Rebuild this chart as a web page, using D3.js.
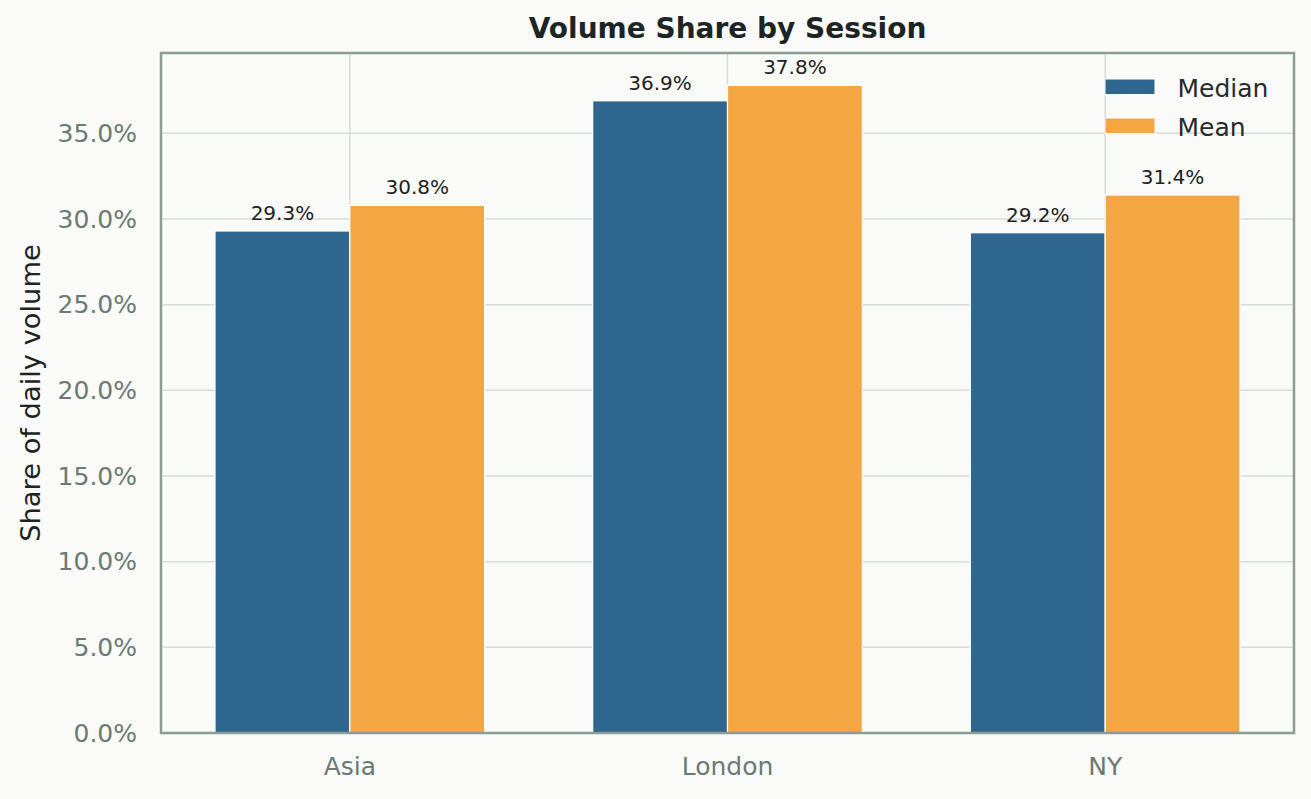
<!DOCTYPE html>
<html>
<head>
<meta charset="utf-8">
<script src="https://cdn.jsdelivr.net/npm/d3@7"></script>
<style>
  html, body { margin: 0; padding: 0; background: #fafaf8; }
  svg { display: block; font-family: "DejaVu Sans", sans-serif; }
</style>
</head>
<body>
<div id="chart"></div>
<script>
// data
const sessions = ["Asia", "London", "NY"];
const medianShare = [29.3, 36.9, 29.2];
const meanShare = [30.8, 37.8, 31.4];
const seriesNames = ["Median", "Mean"];
const yTicks = [0, 5, 10, 15, 20, 25, 30, 35];

const W = 1311, H = 799;
const plot = { left: 161, right: 1294, top: 53, bottom: 733 };
const colors = { Median: "#2f668f", Mean: "#f3a642" };

const svg = d3.select("#chart").append("svg")
    .attr("width", W)
    .attr("height", H);

svg.append("rect").attr("width", W).attr("height", H).attr("fill", "#fafaf8");

const x = d3.scaleBand()
    .domain(sessions)
    .range([plot.left, plot.right])
    .padding(0);

const yMax = d3.max(meanShare.concat(medianShare)) * 1.05;
const y = d3.scaleLinear()
    .domain([0, yMax])
    .range([plot.bottom, plot.top]);

const barW = x.bandwidth() * 0.357;

// grid
svg.append("g")
  .selectAll("line.hgrid")
  .data(yTicks)
  .enter().append("line")
    .attr("x1", plot.left).attr("x2", plot.right)
    .attr("y1", d => y(d)).attr("y2", d => y(d))
    .attr("stroke", "#d6ddd9")
    .attr("stroke-width", 1.5);

svg.append("g")
  .selectAll("line.vgrid")
  .data(sessions)
  .enter().append("line")
    .attr("x1", d => x(d) + x.bandwidth() / 2)
    .attr("x2", d => x(d) + x.bandwidth() / 2)
    .attr("y1", plot.top).attr("y2", plot.bottom)
    .attr("stroke", "#d6ddd9")
    .attr("stroke-width", 1.5);

// bars
const rows = sessions.map((s, i) => ({ s, Median: medianShare[i], Mean: meanShare[i] }));

seriesNames.forEach((name, k) => {
  const g = svg.append("g");
  g.selectAll("rect")
    .data(rows)
    .enter().append("rect")
      .attr("x", d => x(d.s) + x.bandwidth() / 2 + (k - 1) * barW)
      .attr("y", d => y(d[name]))
      .attr("width", barW)
      .attr("height", d => y(0) - y(d[name]))
      .attr("fill", colors[name])
      .attr("stroke", "#ffffff")
      .attr("stroke-width", 1.2);

  g.selectAll("text")
    .data(rows)
    .enter().append("text")
      .attr("x", d => x(d.s) + x.bandwidth() / 2 + (k - 0.5) * barW)
      .attr("y", d => y(d[name]) - 11)
      .attr("text-anchor", "middle")
      .attr("font-size", 20)
      .attr("fill", "#222222")
      .text(d => d[name].toFixed(1) + "%");
});

// axes
const yAxis = svg.append("g")
    .attr("transform", "translate(" + plot.left + ",0)")
    .call(d3.axisLeft(y).tickValues(yTicks).tickSize(0).tickPadding(24)
      .tickFormat(d => d.toFixed(1) + "%"));
yAxis.select(".domain").remove();
yAxis.selectAll("text")
    .attr("font-size", 25)
    .attr("font-family", "DejaVu Sans")
    .attr("fill", "#6b7a75");

const xAxis = svg.append("g")
    .attr("transform", "translate(0," + plot.bottom + ")")
    .call(d3.axisBottom(x).tickSize(0).tickPadding(24));
xAxis.select(".domain").remove();
xAxis.selectAll("text")
    .attr("font-size", 25)
    .attr("font-family", "DejaVu Sans")
    .attr("fill", "#6b7a75");

// frame
svg.append("rect")
    .attr("x", plot.left).attr("y", plot.top)
    .attr("width", plot.right - plot.left)
    .attr("height", plot.bottom - plot.top)
    .attr("fill", "none")
    .attr("stroke", "#8a9e97")
    .attr("stroke-width", 2.5);

// title + y label
svg.append("text")
    .attr("x", (plot.left + plot.right) / 2)
    .attr("y", 38)
    .attr("text-anchor", "middle")
    .attr("font-size", 28)
    .attr("font-weight", "bold")
    .attr("fill", "#1c2523")
    .text("Volume Share by Session");

svg.append("text")
    .attr("transform", "translate(40," + ((plot.top + plot.bottom) / 2) + ") rotate(-90)")
    .attr("text-anchor", "middle")
    .attr("font-size", 27.3)
    .attr("fill", "#1c2523")
    .text("Share of daily volume");

// legend
const legend = svg.append("g").attr("transform", "translate(1105,79)");
seriesNames.forEach((name, i) => {
  const row = legend.append("g").attr("transform", "translate(0," + (i * 39) + ")");
  row.append("rect")
    .attr("width", 50).attr("height", 15.5)
    .attr("fill", colors[name])
    .attr("stroke", "#ffffff")
    .attr("stroke-width", 1);
  row.append("text")
    .attr("x", 72.5)
    .attr("y", 17.5)
    .attr("font-size", 25)
    .attr("fill", "#2a2a2a")
    .text(name);
});
</script>
</body>
</html>
